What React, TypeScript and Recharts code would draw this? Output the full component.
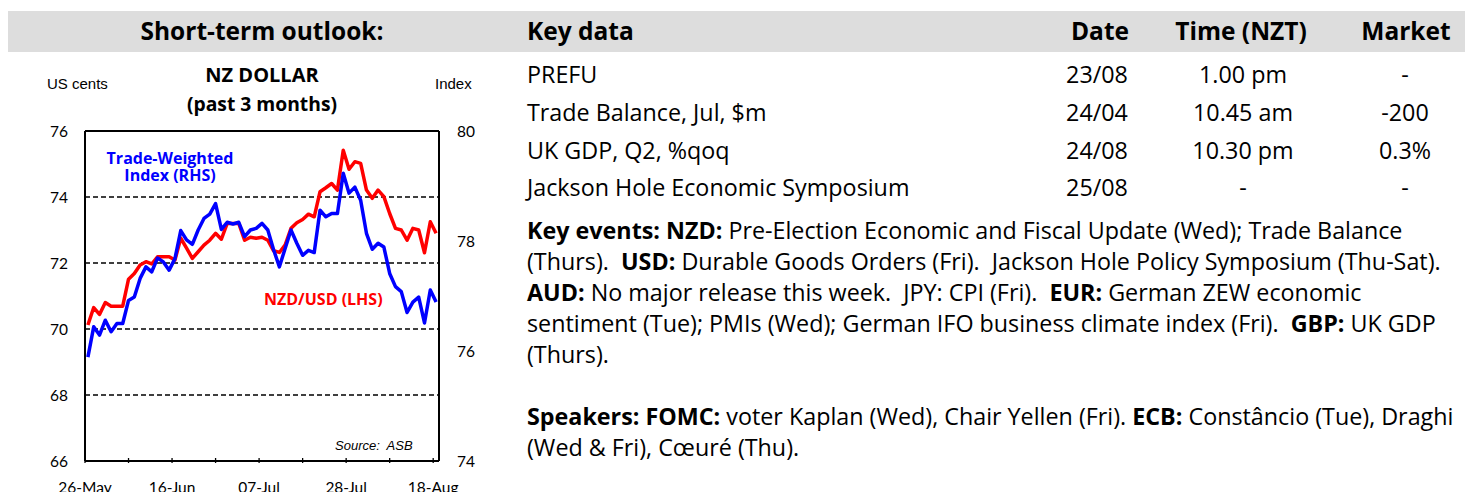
import React from 'react';
import { LineChart, Line, XAxis, YAxis, ReferenceLine } from 'recharts';

// NZD/USD (US cents, LHS) and trade-weighted index (RHS), daily, 26-May to 18-Aug
const NZD_USD = [
  70.12, 70.65, 70.44, 70.8, 70.69, 70.69, 70.69, 71.51, 71.68, 71.94,
  72.04, 71.97, 72.19, 72.19, 72.19, 72.09, 72.75, 72.45, 72.14, 72.34,
  72.54, 72.69, 72.9, 72.72, 73.2, 73.2, 73.2, 72.69, 72.78, 72.75,
  72.78, 72.69, 72.37, 72.32, 72.55, 73.05, 73.22, 73.32, 73.48, 73.4,
  74.16, 74.28, 74.41, 74.21, 75.42, 74.84, 75.07, 75.02, 74.21, 73.96,
  74.21, 74.01, 73.5, 73.05, 73.0, 72.69, 73.05, 73.0, 72.31, 73.25,
  72.9,
];
const TWI = [
  75.89, 76.44, 76.29, 76.56, 76.35, 76.5, 76.5, 76.92, 76.98, 77.32,
  77.53, 77.44, 77.69, 77.62, 77.47, 77.68, 78.19, 78.02, 77.94, 78.2,
  78.41, 78.49, 78.68, 78.21, 78.34, 78.31, 78.34, 78.08, 78.2, 78.23,
  78.32, 78.2, 77.84, 77.53, 77.87, 78.2, 77.96, 77.74, 77.83, 77.79,
  78.56, 78.44, 78.5, 78.5, 79.23, 78.87, 78.98, 78.74, 78.14, 77.85,
  77.96, 77.89, 77.41, 77.17, 77.08, 76.7, 76.89, 76.98, 76.51, 77.11,
  76.89,
];

const X_TICKS = [-0.5, 7, 14.5, 22, 29.5, 37, 44.5, 52, 59.5];
const X_LABELS = ['26-May', '', '16-Jun', '', '07-Jul', '', '28-Jul', '', '18-Aug'];
const LHS_TICKS = [66, 68, 70, 72, 74, 76];
const RHS_TICKS = [74, 76, 78, 80];
const GRID_LINES = [68, 70, 72, 74];

const KEY_DATA = [
  { event: 'PREFU', date: '23/08', time: '1.00 pm', market: '-' },
  { event: 'Trade Balance, Jul, $m', date: '24/04', time: '10.45 am', market: '-200' },
  { event: 'UK GDP, Q2, %qoq', date: '24/08', time: '10.30 pm', market: '0.3%' },
  { event: 'Jackson Hole Economic Symposium', date: '25/08', time: '-', market: '-' },
];

const chartData = NZD_USD.map((v, i) => ({ i, nzd: v, twi: TWI[i] }));

const SANS = '"Open Sans", Lato, sans-serif';
const TICKFONT = 'Lato, "Open Sans", sans-serif';
const ARIAL = '"Liberation Sans", Arial, sans-serif';

const XTick = (props: any) => {
  const { x, y, payload } = props;
  const label = X_LABELS[X_TICKS.indexOf(payload.value)];
  return (
    <g>
      <line x1={x} x2={x} y1={y} y2={y - 5} stroke="#000" strokeWidth={1.3} />
      {label ? (
        <text x={x} y={y + 30} textAnchor="middle" fontFamily={TICKFONT} fontSize={15.5} fill="#000">
          {label}
        </text>
      ) : null}
    </g>
  );
};

const abs = (left: number, top: number, extra: React.CSSProperties = {}): React.CSSProperties => ({
  position: 'absolute', left, top, whiteSpace: 'pre', ...extra,
});

export default function App() {
  const rowTops = [59, 97, 135, 172];
  const paraTops = [215, 246, 277, 308, 339, 401, 432];
  const head: React.CSSProperties = { fontSize: 24.5, fontWeight: 700, lineHeight: '30px' };
  const body: React.CSSProperties = { fontSize: 23.3, lineHeight: '30px' };
  return (
    <div style={{ position: 'absolute', left: 0, top: 0, width: 1465, height: 492, overflow: 'hidden', background: '#fff', fontFamily: SANS, color: '#000' }}>
      {/* header band */}
      <div style={{ position: 'absolute', left: 8, top: 11, width: 1457, height: 41, background: '#dddddd' }} />
      <div style={abs(0, 16, { width: 524, textAlign: 'center', ...head })}>Short-term outlook:</div>
      <div style={abs(527, 16, head)}>Key data</div>
      <div style={abs(1040, 16, { width: 120, textAlign: 'center', ...head })}>Date</div>
      <div style={abs(1161, 16, { width: 160, textAlign: 'center', ...head })}>Time (NZT)</div>
      <div style={abs(1346, 16, { width: 120, textAlign: 'center', ...head })}>Market</div>

      {/* key data rows */}
      {KEY_DATA.map((r, k) => (
        <React.Fragment key={r.event}>
          <div style={abs(527, rowTops[k], body)}>{r.event}</div>
          <div style={abs(1037, rowTops[k], { width: 120, textAlign: 'center', ...body })}>{r.date}</div>
          <div style={abs(1163, rowTops[k], { width: 160, textAlign: 'center', ...body })}>{r.time}</div>
          <div style={abs(1345, rowTops[k], { width: 120, textAlign: 'center', ...body })}>{r.market}</div>
        </React.Fragment>
      ))}

      {/* key events text */}
      <div style={body}>
        <div style={abs(527, paraTops[0])}><b>Key events: NZD:</b> Pre-Election Economic and Fiscal Update (Wed); Trade Balance</div>
        <div style={abs(527, paraTops[1])}>(Thurs).  <b>USD:</b> Durable Goods Orders (Fri).  Jackson Hole Policy Symposium (Thu-Sat).</div>
        <div style={abs(527, paraTops[2])}><b>AUD:</b> No major release this week.  JPY: CPI (Fri).  <b>EUR:</b> German ZEW economic</div>
        <div style={abs(527, paraTops[3])}>sentiment (Tue); PMIs (Wed); German IFO business climate index (Fri).  <b>GBP:</b> UK GDP</div>
        <div style={abs(527, paraTops[4])}>(Thurs).</div>
        <div style={abs(527, paraTops[5])}><b>Speakers: FOMC:</b> voter Kaplan (Wed), Chair Yellen (Fri). <b>ECB:</b> Constâncio (Tue), Draghi</div>
        <div style={abs(527, paraTops[6])}>(Wed &amp; Fri), Cœuré (Thu).</div>
      </div>

      {/* chart */}
      <div style={{ position: 'absolute', left: 0, top: 0 }}>
        <LineChart width={500} height={492} data={chartData} margin={{ top: 131, right: 0, bottom: 0, left: 0 }}>
          <XAxis
            dataKey="i"
            type="number"
            domain={[-0.5, 60.5]}
            ticks={X_TICKS}
            interval={0}
            height={31}
            tickSize={0}
            tickLine={false}
            axisLine={{ stroke: '#000', strokeWidth: 2 }}
            tick={<XTick />}
          />
          <YAxis
            yAxisId="lhs"
            orientation="left"
            width={85}
            domain={[66, 76]}
            ticks={LHS_TICKS}
            interval={0}
            tickSize={0}
            tickMargin={17}
            tickLine={false}
            axisLine={{ stroke: '#000', strokeWidth: 2 }}
            tick={{ fill: '#000', fontFamily: TICKFONT, fontSize: 15.5 }}
          />
          <YAxis
            yAxisId="rhs"
            orientation="right"
            width={61}
            domain={[74, 80]}
            ticks={RHS_TICKS}
            interval={0}
            tickSize={0}
            tickMargin={18}
            tickLine={false}
            axisLine={{ stroke: '#000', strokeWidth: 2 }}
            tick={{ fill: '#000', fontFamily: TICKFONT, fontSize: 15.5 }}
          />
          {GRID_LINES.map((g) => (
            <ReferenceLine key={g} yAxisId="lhs" y={g} stroke="#000" strokeWidth={1.3} strokeDasharray="5 3" />
          ))}
          <ReferenceLine yAxisId="lhs" y={76} stroke="#000" strokeWidth={2} />
          <Line yAxisId="lhs" dataKey="nzd" type="linear" stroke="#ff0000" strokeWidth={3.5} strokeLinejoin="round" dot={false} isAnimationActive={false} />
          <Line yAxisId="rhs" dataKey="twi" type="linear" stroke="#0000ff" strokeWidth={3.5} strokeLinejoin="round" dot={false} isAnimationActive={false} />
        </LineChart>
      </div>

      {/* chart titles and labels */}
      <div style={abs(47, 75, { fontFamily: ARIAL, fontSize: 15, lineHeight: '18px' })}>US cents</div>
      <div style={abs(435, 75, { fontFamily: ARIAL, fontSize: 15, lineHeight: '18px' })}>Index</div>
      <div style={abs(112, 62, { width: 300, textAlign: 'center', fontSize: 20, fontWeight: 700, lineHeight: '26px' })}>NZ DOLLAR</div>
      <div style={abs(112, 92, { width: 300, textAlign: 'center', fontSize: 19.3, fontWeight: 700, lineHeight: '24px' })}>(past 3 months)</div>
      <div style={abs(90, 150, { width: 160, textAlign: 'center', fontSize: 16, fontWeight: 700, lineHeight: '17px', color: '#0000ff' })}>{'Trade-Weighted\nIndex (RHS)'}</div>
      <div style={abs(264, 289, { fontSize: 16, fontWeight: 700, lineHeight: '20px', color: '#ff0000' })}>NZD/USD (LHS)</div>
      <div style={abs(335, 438, { fontFamily: ARIAL, fontStyle: 'italic', fontSize: 13, lineHeight: '16px' })}>Source:  ASB</div>
    </div>
  );
}
